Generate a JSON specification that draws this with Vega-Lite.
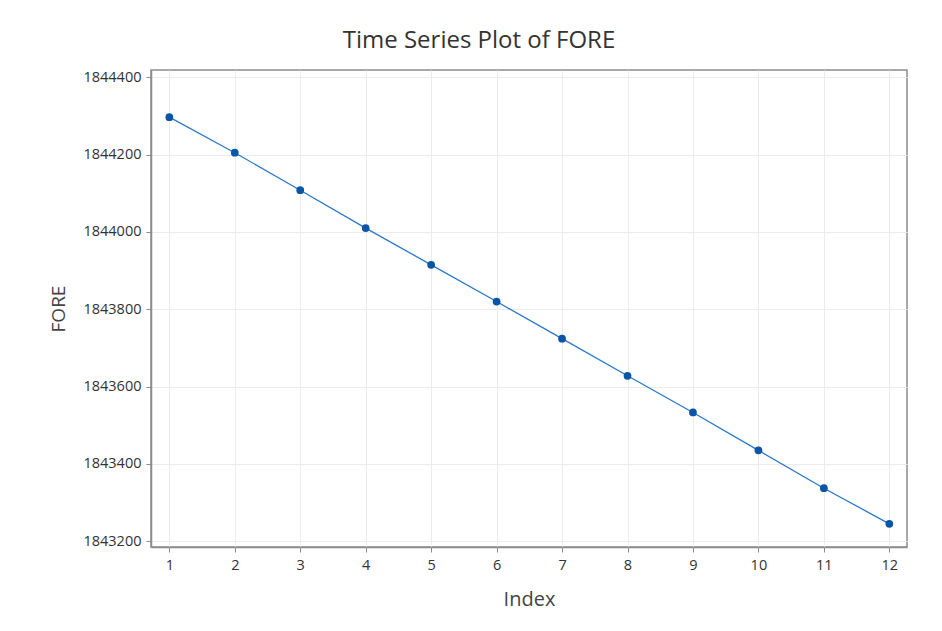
{
  "$schema": "https://vega.github.io/schema/vega-lite/v6.json",
  "width": 756,
  "height": 477,
  "autosize": "none",
  "padding": {"left": 151, "top": 70, "right": 35, "bottom": 84},
  "background": "white",
  "title": {
    "text": "Time Series Plot of FORE",
    "font": "Open Sans",
    "fontSize": 24,
    "fontWeight": "normal",
    "color": "#333333",
    "anchor": "middle",
    "dx": -50,
    "offset": 16
  },
  "config": {
    "view": {"stroke": "#8c8c8c", "strokeWidth": 1.5},
    "axis": {
      "labelFont": "Open Sans",
      "titleFont": "Open Sans",
      "labelColor": "#333333",
      "titleColor": "#444444",
      "labelFontSize": 14.5,
      "labelFontWeight": 500,
      "titleFontSize": 20,
      "titleFontWeight": "normal",
      "gridColor": "#ececec",
      "gridWidth": 1,
      "domainColor": "#8c8c8c",
      "domainWidth": 1.5,
      "tickColor": "#8c8c8c",
      "tickSize": 5
    }
  },
  "data": {
    "values": [
      {"Index": 1, "FORE": 1844297},
      {"Index": 2, "FORE": 1844205},
      {"Index": 3, "FORE": 1844108},
      {"Index": 4, "FORE": 1844010},
      {"Index": 5, "FORE": 1843915},
      {"Index": 6, "FORE": 1843820},
      {"Index": 7, "FORE": 1843724},
      {"Index": 8, "FORE": 1843628},
      {"Index": 9, "FORE": 1843533},
      {"Index": 10, "FORE": 1843435},
      {"Index": 11, "FORE": 1843337},
      {"Index": 12, "FORE": 1843245}
    ]
  },
  "encoding": {
    "x": {
      "field": "Index",
      "type": "quantitative",
      "scale": {"domain": [0.72, 12.27], "nice": false, "zero": false},
      "axis": {"values": [1,2,3,4,5,6,7,8,9,10,11,12], "format": "d", "labelPadding": 6, "titlePadding": 18, "title": "Index"}
    },
    "y": {
      "field": "FORE",
      "type": "quantitative",
      "scale": {"domain": [1843185, 1844419], "nice": false, "zero": false},
      "axis": {"values": [1843200, 1843400, 1843600, 1843800, 1844000, 1844200, 1844400], "format": "d", "labelPadding": 5, "titlePadding": 14, "title": "FORE", "titleFontSize": 19}
    }
  },
  "layer": [
    {"mark": {"type": "line", "color": "#2b78c8", "strokeWidth": 1.3}},
    {"mark": {"type": "point", "filled": true, "color": "#0a55a8", "size": 60, "opacity": 1}}
  ]
}
